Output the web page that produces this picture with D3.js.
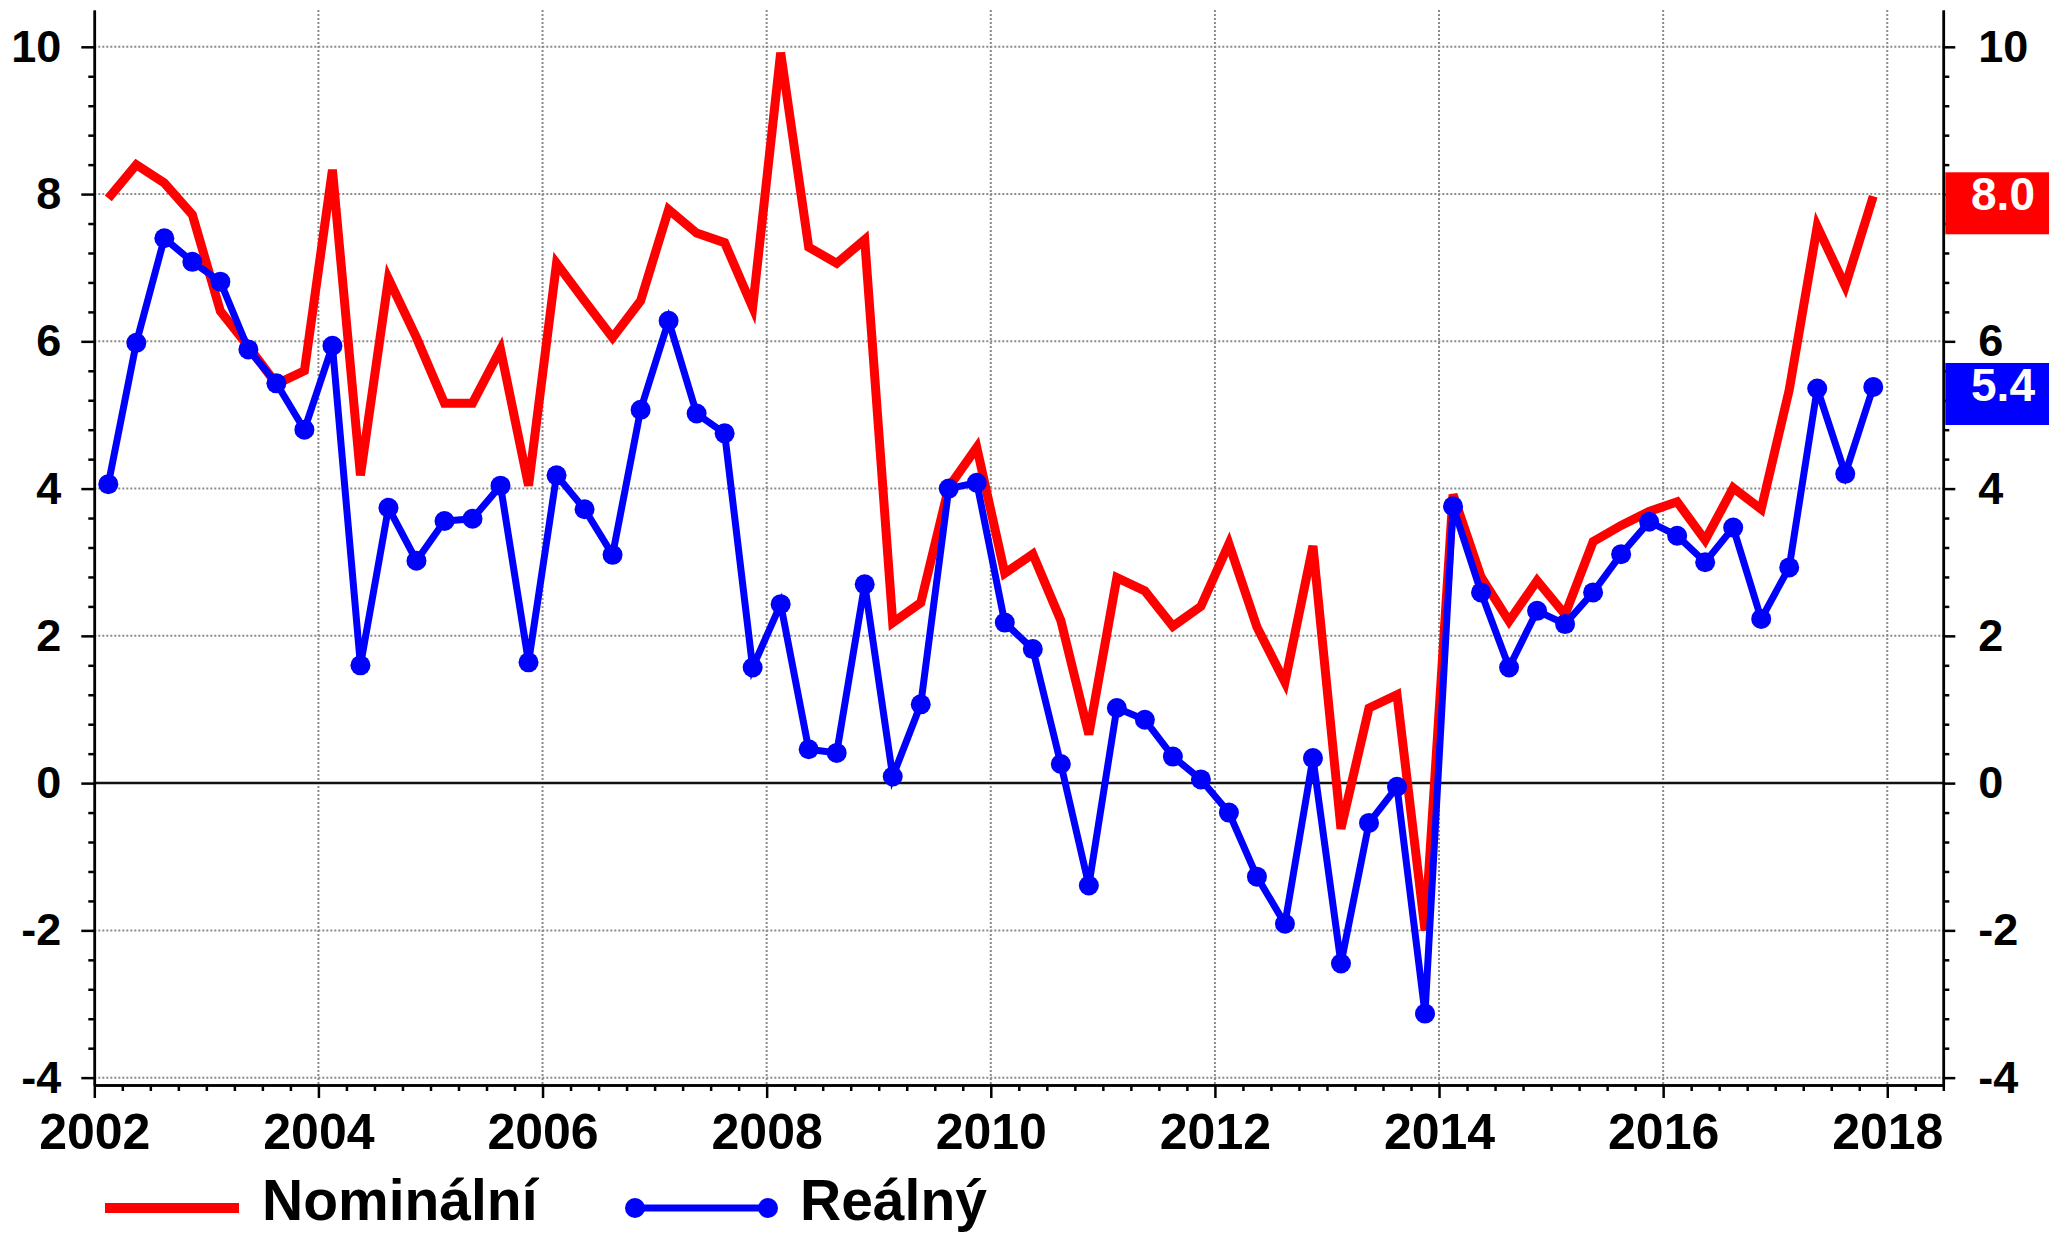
<!DOCTYPE html>
<html>
<head>
<meta charset="utf-8">
<script src="https://cdn.jsdelivr.net/npm/d3@7"></script>
<style>
  body { margin: 0; background: #fff; }
  svg text { font-family: "Liberation Sans", Arial, sans-serif; font-weight: bold; }
</style>
</head>
<body>
<div id="chart"></div>
<script>
// quarterly data, 2002 Q1 .. 2017 Q4
var firstYear = 2002;
var quarters = ["Q1", "Q2", "Q3", "Q4"];

var nominal = [7.94, 8.40, 8.15, 7.72, 6.41, 5.93, 5.42, 5.60,
  8.33, 4.18, 6.85, 6.05, 5.16, 5.16, 5.89, 4.04,
  7.06, 6.55, 6.05, 6.55, 7.79, 7.47, 7.34, 6.46,
  9.92, 7.28, 7.06, 7.38, 2.18, 2.45, 4.02, 4.56,
  2.85, 3.11, 2.21, 0.66, 2.79, 2.61, 2.13, 2.40,
  3.25, 2.12, 1.37, 3.22, -0.62, 1.02, 1.20, -2.00,
  3.92, 2.80, 2.20, 2.75, 2.29, 3.28, 3.50, 3.69,
  3.82, 3.30, 4.01, 3.72, 5.34, 7.56, 6.75, 7.97];

var real = [4.06, 5.98, 7.40, 7.08, 6.81, 5.89, 5.43, 4.80,
  5.94, 1.60, 3.74, 3.02, 3.56, 3.59, 4.04, 1.64,
  4.18, 3.72, 3.10, 5.07, 6.28, 5.02, 4.75, 1.57,
  2.43, 0.46, 0.41, 2.70, 0.09, 1.07, 4.00, 4.08,
  2.18, 1.82, 0.26, -1.39, 1.02, 0.86, 0.36, 0.05,
  -0.40, -1.27, -1.91, 0.34, -2.45, -0.54, -0.05, -3.13,
  3.76, 2.59, 1.57, 2.34, 2.16, 2.59, 3.11, 3.55,
  3.36, 3.00, 3.47, 2.23, 2.93, 5.36, 4.20, 5.38];

var yTicks = [-4, -2, 0, 2, 4, 6, 8, 10];
var xTicks = [2002, 2004, 2006, 2008, 2010, 2012, 2014, 2016, 2018];
var seriesNames = ["Nominální", "Reálný"];
var seriesColors = ["#ff0000", "#0000ff"];

// Size and location of the chart
var svgWidth = 2049;
var svgHeight = 1236;
var plotLeft = 94.3, plotRight = 1943.3, plotTop = 10, plotBottom = 1085;

var svg = d3.select("#chart")
  .append("svg")
  .attr("width", svgWidth)
  .attr("height", svgHeight);

var xScale = d3.scaleLinear()
  .domain([2002, 2018.5])
  .range([plotLeft, plotRight]);

var yScale = d3.scaleLinear()
  .domain([-4.1, 10.5])
  .range([plotBottom, plotTop]);

// one point per quarter, placed in the middle of the quarter
var points = nominal.map(function(v, i) {
  return {
    label: (firstYear + Math.floor(i / 4)) + " " + quarters[i % 4],
    t: firstYear + (i + 0.5) / 4,
    nominal: v,
    real: real[i]
  };
});

// dotted grid
var grid = svg.append("g");
grid.selectAll(".hgrid")
  .data(yTicks.filter(d => d !== 0))
  .enter()
  .append("line")
  .attr("x1", plotLeft)
  .attr("x2", plotRight)
  .attr("y1", d => yScale(d))
  .attr("y2", d => yScale(d))
  .attr("stroke", "#8a8a8a")
  .attr("stroke-width", 2)
  .attr("stroke-dasharray", "2,2");

grid.selectAll(".vgrid")
  .data(xTicks.filter(d => d !== 2002))
  .enter()
  .append("line")
  .attr("x1", d => xScale(d))
  .attr("x2", d => xScale(d))
  .attr("y1", plotTop)
  .attr("y2", plotBottom)
  .attr("stroke", "#8a8a8a")
  .attr("stroke-width", 2)
  .attr("stroke-dasharray", "2,2");

// zero line
svg.append("line")
  .attr("x1", plotLeft)
  .attr("x2", plotRight)
  .attr("y1", yScale(0))
  .attr("y2", yScale(0))
  .attr("stroke", "#111")
  .attr("stroke-width", 2.5);

// minor ticks
var yMinor = d3.range(-4, 10.01, 0.4).filter(d => Math.abs(d / 2 - Math.round(d / 2)) > 0.01);
var xMinor = d3.range(2002, 2018.51, 0.25).filter(d => Math.abs(d / 2 - Math.round(d / 2)) > 0.01);

function styleAxis(g, size) {
  g.select(".domain").attr("stroke", "#000").attr("stroke-width", 2.5);
  g.selectAll(".tick line").attr("stroke", "#000").attr("stroke-width", 2.5);
  g.selectAll("text")
    .attr("fill", "#000")
    .style("font-family", "'Liberation Sans', Arial, sans-serif")
    .style("font-weight", "bold")
    .style("font-size", size + "px");
}

var plainNumber = d => String(d);

svg.append("g")
  .attr("transform", `translate(${plotLeft},0)`)
  .call(d3.axisLeft(yScale).tickValues(yMinor).tickSize(6).tickSizeOuter(0).tickFormat(""))
  .call(g => styleAxis(g, 10));
svg.append("g")
  .attr("transform", `translate(${plotRight},0)`)
  .call(d3.axisRight(yScale).tickValues(yMinor).tickSize(6).tickSizeOuter(0).tickFormat(""))
  .call(g => styleAxis(g, 10));
svg.append("g")
  .attr("transform", `translate(0,${plotBottom})`)
  .call(d3.axisBottom(xScale).tickValues(xMinor).tickSize(6).tickSizeOuter(0).tickFormat(""))
  .call(g => styleAxis(g, 10));

// major axes
var leftAxis = svg.append("g")
  .attr("transform", `translate(${plotLeft},0)`)
  .call(d3.axisLeft(yScale).tickValues(yTicks).tickSize(13).tickPadding(20).tickSizeOuter(0).tickFormat(plainNumber))
  .call(g => styleAxis(g, 45));

// the right label at 8 sits under the last-value box, so it is left out
var rightAxis = svg.append("g")
  .attr("transform", `translate(${plotRight},0)`)
  .call(d3.axisRight(yScale).tickValues(yTicks).tickSize(12).tickPadding(23).tickSizeOuter(0)
    .tickFormat(d => d === 8 ? "" : String(d)))
  .call(g => styleAxis(g, 45));

var bottomAxis = svg.append("g")
  .attr("transform", `translate(0,${plotBottom})`)
  .call(d3.axisBottom(xScale).tickValues(xTicks).tickSize(13).tickPadding(15).tickSizeOuter(0).tickFormat(plainNumber))
  .call(g => styleAxis(g, 50));

// lines
var nominalLine = d3.line()
  .x(d => xScale(d.t))
  .y(d => yScale(d.nominal));

var realLine = d3.line()
  .x(d => xScale(d.t))
  .y(d => yScale(d.real));

svg.append("path")
  .datum(points)
  .attr("d", nominalLine)
  .attr("fill", "none")
  .attr("stroke", seriesColors[0])
  .attr("stroke-width", 9);

svg.append("path")
  .datum(points)
  .attr("d", realLine)
  .attr("fill", "none")
  .attr("stroke", seriesColors[1])
  .attr("stroke-width", 7);

svg.selectAll(".dot")
  .data(points)
  .enter()
  .append("circle")
  .attr("class", "dot")
  .attr("cx", d => xScale(d.t))
  .attr("cy", d => yScale(d.real))
  .attr("r", 10)
  .attr("fill", seriesColors[1]);

// last value boxes on the right axis
var lastValues = [nominal[nominal.length - 1], real[real.length - 1]];
lastValues.forEach(function(v, i) {
  var y = yScale(v);
  svg.append("rect")
    .attr("x", plotRight + 2)
    .attr("y", y - 24)
    .attr("width", svgWidth - plotRight - 2)
    .attr("height", 62)
    .attr("fill", seriesColors[i]);
  svg.append("text")
    .attr("x", 2003)
    .attr("y", y + 14)
    .attr("text-anchor", "middle")
    .attr("fill", "#fff")
    .style("font-size", "46px")
    .text(d3.format(".1f")(v));
});

// legend
var legend = svg.append("g");
legend.append("line")
  .attr("x1", 105).attr("x2", 239)
  .attr("y1", 1208).attr("y2", 1208)
  .attr("stroke", seriesColors[0])
  .attr("stroke-width", 10);
legend.append("text")
  .attr("x", 262).attr("y", 1220)
  .style("font-size", "57px")
  .text(seriesNames[0]);

legend.append("line")
  .attr("x1", 635).attr("x2", 768)
  .attr("y1", 1208).attr("y2", 1208)
  .attr("stroke", seriesColors[1])
  .attr("stroke-width", 7);
legend.selectAll(".ldot")
  .data([635, 768])
  .enter()
  .append("circle")
  .attr("cx", d => d)
  .attr("cy", 1208)
  .attr("r", 10)
  .attr("fill", seriesColors[1]);
legend.append("text")
  .attr("x", 800).attr("y", 1220)
  .style("font-size", "57px")
  .text(seriesNames[1]);
</script>
</body>
</html>
